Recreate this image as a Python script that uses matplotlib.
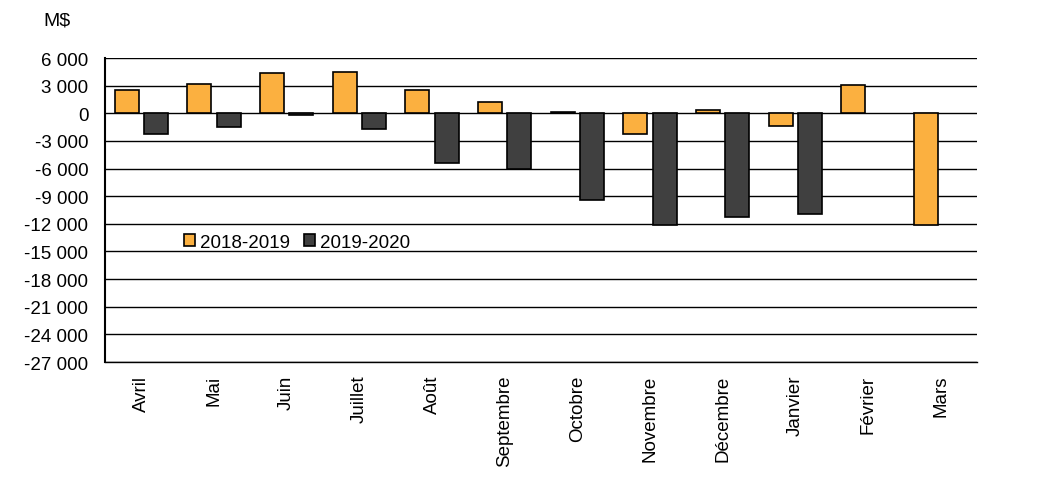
import matplotlib.pyplot as plt
import matplotlib.ticker as mticker
import numpy as np

plt.rcParams['font.family'] = ['Liberation Sans', 'DejaVu Sans']

# Data (M$)
mois = ["Avril", "Mai", "Juin", "Juillet", "Août", "Septembre", "Octobre",
        "Novembre", "Décembre", "Janvier", "Février", "Mars"]
val_2018_2019 = [2550, 3220, 4330, 4440, 2550, 1180, 110, -2260, 330, -1370, 3110, -12140]
val_2019_2020 = [-2260, -1440, -150, -1710, -5370, -6040, -9370, -12140, -11250, -10880,
                 np.nan, np.nan]

orange = '#FBB040'
dark = '#404040'
fs = 13.5

fig = plt.figure(figsize=(10.45, 5.02), dpi=100)
ax = fig.add_axes([105/1045, 1-363/502, (977-105)/1045, (363-59)/502])

x = np.arange(len(mois))
w = 0.33
ax.bar(x - 0.2, val_2018_2019, w, color=orange, edgecolor='black', linewidth=1.2, label='2018-2019', zorder=3)
ax.bar(x + 0.2, val_2019_2020, w, color=dark, edgecolor='black', linewidth=1.2, label='2019-2020', zorder=3)

ax.set_xlim(-0.5, len(mois) - 0.5)
ax.set_ylim(-27000, 6000)
ax.set_yticks(np.arange(-27000, 6001, 3000))
ax.yaxis.set_major_formatter(mticker.FuncFormatter(lambda v, p: f"{int(v):,}".replace(",", " ")))
ax.grid(axis='y', color='black', linewidth=1, zorder=1)
ax.set_axisbelow(True)

ax.set_xticks(x)
ax.set_xticklabels(mois, rotation=90, va='top', ha='center')
ax.tick_params(axis='both', length=0, labelsize=fs)
ax.tick_params(axis='y', pad=12)
ax.tick_params(axis='x', pad=9)

for s in ['top', 'right']:
    ax.spines[s].set_visible(False)
ax.spines['left'].set_linewidth(1.5)
ax.spines['bottom'].set_linewidth(1)

ax.legend(loc='center left', bbox_to_anchor=(184/1045, 1-243/502), bbox_transform=fig.transFigure,
          frameon=False, fontsize=fs, ncol=2, handlelength=0.6, handleheight=0.6,
          handletextpad=0.25, columnspacing=0.75, borderaxespad=0, borderpad=0)

fig.text(43/1045, 1-21/502, 'M$', fontsize=14, va='center', ha='left')

fig.savefig('out.png', dpi=100)
